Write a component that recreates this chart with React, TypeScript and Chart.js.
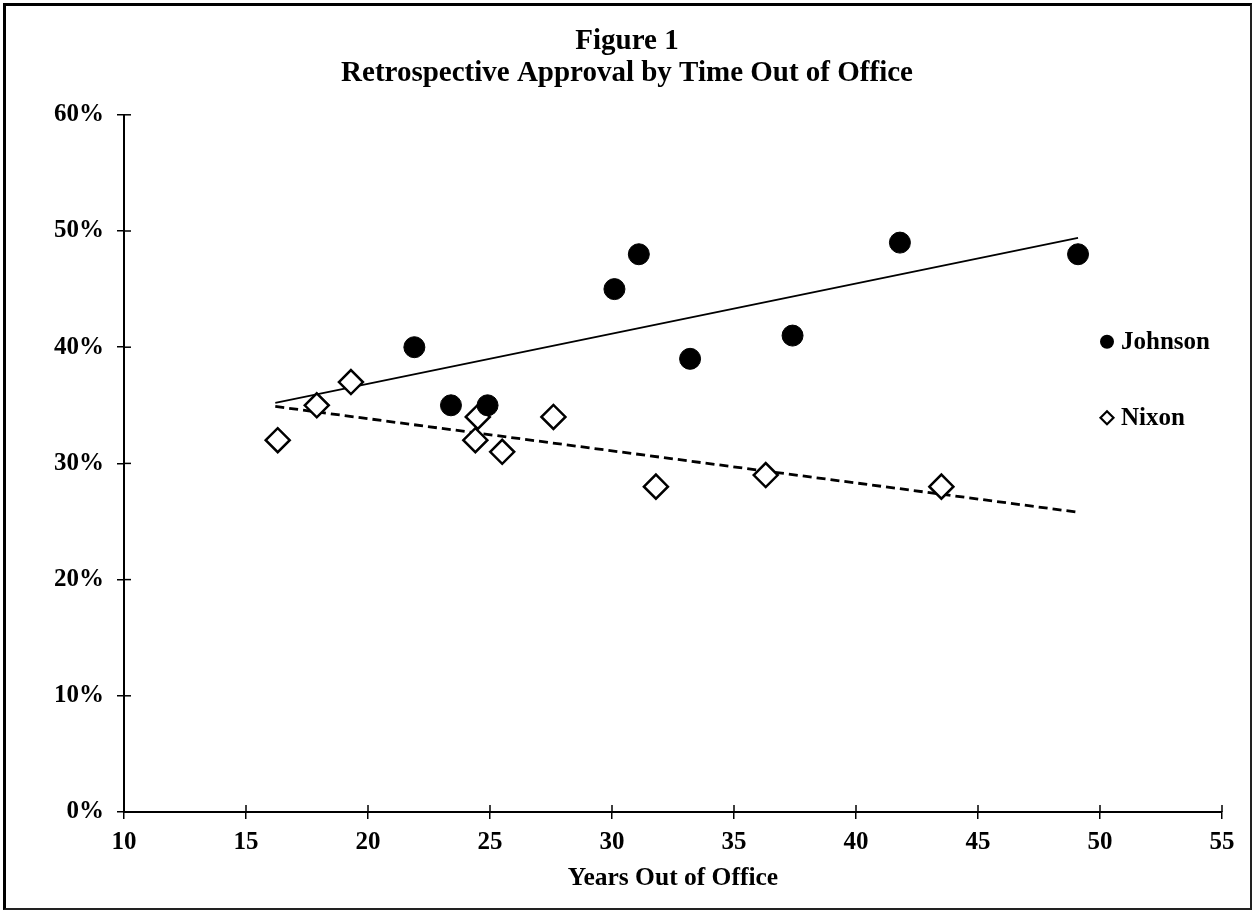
import React, { useEffect, useRef } from "react";
import { Chart, registerables } from "chart.js";

Chart.register(...registerables);

// ---- data ----
const johnsonYears = [21.9, 23.4, 24.9, 30.1, 31.1, 33.2, 37.4, 41.8, 49.1];
const johnsonApproval = [40, 35, 35, 45, 48, 39, 41, 49, 48];
const nixonYears = [16.3, 17.9, 19.3, 24.4, 24.5, 25.5, 27.6, 31.8, 36.3, 43.5];
const nixonApproval = [32, 35, 37, 32, 34, 31, 34, 28, 29, 28];
const johnsonTrendYears = [16.2, 49.1];
const johnsonTrendApproval = [35.2, 49.4];
const nixonTrendYears = [16.2, 49.1];
const nixonTrendApproval = [34.9, 25.8];
const seriesNames = ["Johnson", "Nixon"];
const titleLines = ["Figure 1", "Retrospective Approval by Time Out of Office"];
const xAxisTitle = "Years Out of Office";

const FONT = "'Liberation Serif', 'Times New Roman', Times, serif";

const toPoints = (xs: number[], ys: number[]) => xs.map((x, i) => ({ x, y: ys[i] }));

const innerTicks = {
  id: "innerTicks",
  afterDraw(chart: any) {
    const { ctx, chartArea, scales } = chart;
    ctx.save();
    ctx.strokeStyle = "#000";
    ctx.lineWidth = 1.5;
    scales.x.ticks.forEach((t: any) => {
      const px = scales.x.getPixelForValue(t.value);
      ctx.beginPath();
      ctx.moveTo(px, chartArea.bottom);
      ctx.lineTo(px, chartArea.bottom - 7);
      ctx.stroke();
    });
    scales.y.ticks.forEach((t: any) => {
      const py = scales.y.getPixelForValue(t.value);
      ctx.beginPath();
      ctx.moveTo(chartArea.left, py);
      ctx.lineTo(chartArea.left + 7, py);
      ctx.stroke();
    });
    ctx.restore();
  },
};

const overlayLegend = {
  id: "overlayLegend",
  afterDraw(chart: any) {
    const { ctx, chartArea } = chart;
    const mx = chartArea.right - 115;
    const rows = [
      { name: seriesNames[0], y: chartArea.top + 227, style: "circle" },
      { name: seriesNames[1], y: chartArea.top + 303, style: "diamond" },
    ];
    ctx.save();
    rows.forEach((r) => {
      ctx.beginPath();
      if (r.style === "circle") {
        ctx.arc(mx, r.y, 7, 0, Math.PI * 2);
        ctx.fillStyle = "#000";
        ctx.fill();
      } else {
        const s = 6.5;
        ctx.moveTo(mx - s, r.y);
        ctx.lineTo(mx, r.y - s);
        ctx.lineTo(mx + s, r.y);
        ctx.lineTo(mx, r.y + s);
        ctx.closePath();
        ctx.fillStyle = "#fff";
        ctx.fill();
        ctx.lineWidth = 2.2;
        ctx.strokeStyle = "#000";
        ctx.stroke();
      }
      ctx.fillStyle = "#000";
      ctx.font = `bold 25px ${FONT}`;
      ctx.textAlign = "left";
      ctx.textBaseline = "middle";
      ctx.fillText(r.name, mx + 14, r.y + 1);
    });
    ctx.restore();
  },
};

export default function App() {
  const canvasRef = useRef<HTMLCanvasElement | null>(null);

  useEffect(() => {
    const canvas = canvasRef.current;
    if (!canvas) return;
    const chart = new Chart(canvas, {
      type: "scatter",
      data: {
        datasets: [
          {
            label: seriesNames[0],
            data: toPoints(johnsonYears, johnsonApproval),
            pointStyle: "circle",
            pointRadius: 10.5,
            pointBackgroundColor: "#000",
            pointBorderColor: "#000",
            pointBorderWidth: 1,
            order: 0,
          },
          {
            label: seriesNames[1],
            data: toPoints(nixonYears, nixonApproval),
            pointStyle: "rectRot",
            pointRadius: 12,
            pointBackgroundColor: "#fff",
            pointBorderColor: "#000",
            pointBorderWidth: 2.5,
            order: 0,
          },
          {
            type: "line",
            label: "Johnson trend",
            data: toPoints(johnsonTrendYears, johnsonTrendApproval),
            borderColor: "#000",
            borderWidth: 1.8,
            pointRadius: 0,
            fill: false,
            order: 1,
          } as any,
          {
            type: "line",
            label: "Nixon trend",
            data: toPoints(nixonTrendYears, nixonTrendApproval),
            borderColor: "#000",
            borderWidth: 2.8,
            borderDash: [9, 5],
            pointRadius: 0,
            fill: false,
            order: 1,
          } as any,
        ],
      },
      options: {
        responsive: false,
        animation: false,
        layout: { padding: { left: 0, right: 0, top: 0, bottom: 0 } },
        plugins: {
          legend: { display: false },
          tooltip: { enabled: false },
          title: {
            display: true,
            text: titleLines,
            color: "#000",
            font: { family: FONT, size: 29, weight: "bold", lineHeight: 1.1 },
            padding: { top: 26, bottom: 25 },
          },
        },
        scales: {
          x: {
            type: "linear",
            min: 10,
            max: 55,
            ticks: {
              stepSize: 5,
              color: "#000",
              padding: 9,
              font: { family: FONT, size: 25, weight: "bold" },
            },
            grid: {
              drawOnChartArea: false,
              drawTicks: true,
              tickLength: 7,
              color: "#000",
              lineWidth: 1.5,
            },
            border: { display: true, color: "#000", width: 2 },
            title: {
              display: true,
              text: xAxisTitle,
              color: "#000",
              font: { family: FONT, size: 25.5, weight: "bold" },
              padding: { top: 0, bottom: 17.7 },
            },
            afterFit: (scale: any) => {
              scale.height = 99;
            },
          },
          y: {
            type: "linear",
            min: 0,
            max: 60,
            ticks: {
              stepSize: 10,
              color: "#000",
              padding: 13,
              font: { family: FONT, size: 25, weight: "bold" },
              callback: (v: any) => `${v}%`,
            },
            grid: {
              drawOnChartArea: false,
              drawTicks: true,
              tickLength: 7,
              color: "#000",
              lineWidth: 1.5,
            },
            border: { display: true, color: "#000", width: 2 },
            afterFit: (scale: any) => {
              scale.width = 124;
            },
          },
          yRightSpace: {
            type: "linear",
            position: "right",
            display: true,
            min: 0,
            max: 60,
            ticks: { display: false },
            grid: { display: false, drawTicks: false },
            border: { display: false },
            afterFit: (scale: any) => {
              scale.width = 32;
            },
          },
        },
      },
      plugins: [innerTicks, overlayLegend],
    });
    return () => chart.destroy();
  }, []);

  return (
    <div style={{ position: "fixed", left: 0, top: 0, width: 1254, height: 911, background: "#fff" }}>
      <canvas ref={canvasRef} width={1254} height={911} style={{ position: "absolute", left: 0, top: 0, width: 1254, height: 911 }} />
      <div
        style={{
          position: "absolute",
          left: 3,
          top: 3,
          width: 1249,
          height: 907,
          boxSizing: "border-box",
          borderLeft: "3px solid #000",
          borderTop: "3px solid #000",
          borderRight: "2px solid #222",
          borderBottom: "2px solid #222",
          pointerEvents: "none",
        }}
      />
    </div>
  );
}
